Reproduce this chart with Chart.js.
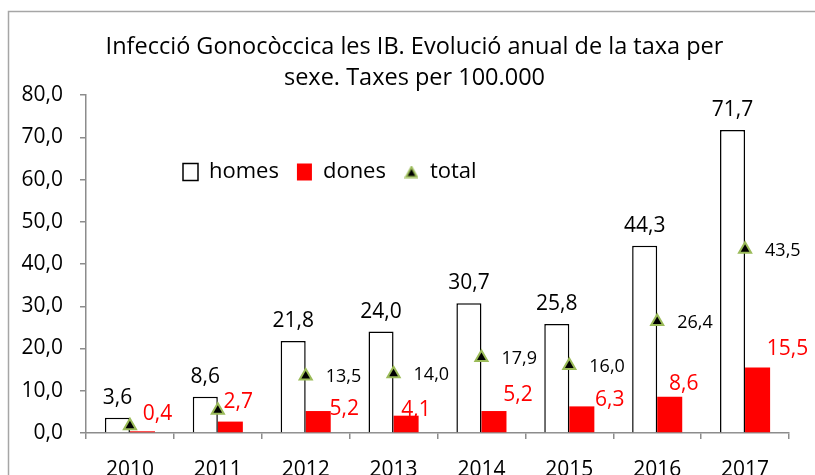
<!DOCTYPE html>
<html>
<head>
<meta charset="utf-8">
<script src="https://cdn.jsdelivr.net/npm/chart.js@4/dist/chart.umd.min.js"></script>
<style>
  html, body { margin: 0; padding: 0; background: #fff; overflow: hidden; width: 815px; height: 475px; }
  #wrap { position: absolute; left: 0; top: 0; width: 815px; height: 500px; }
</style>
</head>
<body>
<div id="wrap"><canvas id="c" width="815" height="500"></canvas></div>
<script>
// ---- data ----
const years = ['2010', '2011', '2012', '2013', '2014', '2015', '2016', '2017'];
const homes = [3.6, 8.6, 21.8, 24.0, 30.7, 25.8, 44.3, 71.7];
const dones = [0.4, 2.7, 5.2, 4.1, 5.2, 6.3, 8.6, 15.5];
const total = [1.7, 5.4, 13.5, 14.0, 17.9, 16.0, 26.4, 43.5];
const totalLabelShown = [false, false, true, true, true, true, true, true];
const yTicks = [0, 10, 20, 30, 40, 50, 60, 70, 80];
const seriesNames = ['homes', 'dones', 'total'];
const titleLines = ['Infecció Gonocòccica les IB. Evolució anual de la taxa per', 'sexe. Taxes per 100.000'];

// ---- label placement (style, relative to marks) ----
const donesLabelDx = [15, 8, 26, 10, 24, 28, 14, 30];
const donesLabelDy = [-19, -21, -4, -7, -18, -8, -14, -20];

const FONT = '"Open Sans", "Noto Sans", sans-serif';
Chart.defaults.font.family = FONT;
Chart.defaults.color = '#000';

const fmt = v => v.toFixed(1).replace('.', ',');
const AXIS = '#8c8c8c';
const GREEN = '#9bbb59';

// small triangle for legend
const tri = document.createElement('canvas');
tri.width = 14; tri.height = 13;
(function () {
  const c = tri.getContext('2d');
  c.beginPath();
  c.moveTo(7, 1.5); c.lineTo(12.5, 11.5); c.lineTo(1.5, 11.5); c.closePath();
  c.fillStyle = '#000'; c.fill();
  c.lineWidth = 2; c.strokeStyle = GREEN; c.lineJoin = 'miter'; c.stroke();
})();

const helpers = {
  id: 'helpers',
  beforeDraw(chart) {
    const ctx = chart.ctx;
    ctx.save();
    ctx.fillStyle = '#fff';
    ctx.fillRect(0, 0, chart.width, chart.height);
    ctx.strokeStyle = '#a6a6a6';
    ctx.lineWidth = 1.5;
    ctx.strokeRect(8.5, 11.5, chart.width + 50, chart.height + 50);
    ctx.restore();
  },
  afterLayout(chart) {
    const lg = chart.legend;
    const pad = lg.options.labels.padding;
    const lw = lg.lineWidths[0];
    lg.left = 183 - pad;
    lg.right = lg.left + pad + lw;
    lg.width = lg.right - lg.left;
    lg.top = 143;
    lg.height = 62;
    lg.bottom = lg.top + lg.height;
    const t = chart.titleBlock;
    t.left = 7; t.right = 822;
  },
  afterDatasetsDraw(chart) {
    const ctx = chart.ctx;
    ctx.save();
    ctx.textBaseline = 'alphabetic';
    // homes labels
    ctx.font = '21px ' + FONT;
    ctx.fillStyle = '#000';
    ctx.textAlign = 'center';
    chart.getDatasetMeta(0).data.forEach((el, i) => {
      ctx.fillText(fmt(homes[i]), el.x, el.y - 14);
    });
    // dones labels
    ctx.fillStyle = '#ff0000';
    chart.getDatasetMeta(1).data.forEach((el, i) => {
      ctx.fillText(fmt(dones[i]), el.x + donesLabelDx[i], el.y + donesLabelDy[i] + 7.5);
    });
    // total labels
    ctx.font = '18px ' + FONT;
    ctx.fillStyle = '#000';
    ctx.textAlign = 'left';
    chart.getDatasetMeta(2).data.forEach((el, i) => {
      if (totalLabelShown[i]) ctx.fillText(fmt(total[i]), el.x + 20, el.y + 6.4);
    });
    ctx.restore();
  }
};

new Chart(document.getElementById('c'), {
  type: 'bar',
  data: {
    labels: years,
    datasets: [
      { label: seriesNames[0], data: homes, backgroundColor: '#ffffff', borderColor: '#000000', borderWidth: 1.5,
        categoryPercentage: 0.57, barPercentage: 1.0, pointStyle: 'rect', order: 2 },
      { label: seriesNames[1], data: dones, backgroundColor: '#ff0000', borderColor: '#ff0000', borderWidth: 0,
        categoryPercentage: 0.57, barPercentage: 1.0, pointStyle: 'rect', order: 2 },
      { label: seriesNames[2], type: 'line', data: total, showLine: false, pointStyle: 'triangle',
        pointRadius: 7, pointHoverRadius: 7, pointBackgroundColor: '#000', pointBorderColor: GREEN,
        pointBorderWidth: 2, backgroundColor: '#000', borderColor: GREEN, order: 0 }
    ]
  },
  options: {
    responsive: false,
    animation: false,
    devicePixelRatio: 1,
    layout: { padding: { left: 0, right: 26, top: 0, bottom: 0 } },
    plugins: {
      tooltip: { enabled: false },
      title: {
        display: true,
        text: titleLines,
        color: '#000',
        font: { size: 23.5, weight: 'normal', lineHeight: 1.32 },
        padding: { top: 31.5, bottom: 0.5 }
      },
      legend: {
        display: true,
        position: 'top',
        maxHeight: 1,
        labels: {
          color: '#000',
          font: { size: 22 },
          usePointStyle: true,
          pointStyleWidth: 15,
          boxWidth: 15,
          boxHeight: 17,
          padding: 18,
          sort: (a, b) => a.datasetIndex - b.datasetIndex,
          generateLabels(chart) {
            const items = Chart.defaults.plugins.legend.labels.generateLabels(chart);
            items.forEach(it => {
              if (it.datasetIndex === 2) { it.pointStyle = tri; }
              else { it.pointStyle = 'rect'; }
              if (it.datasetIndex === 0) { it.lineWidth = 1.5; it.strokeStyle = '#000'; it.fillStyle = '#fff'; }
              if (it.datasetIndex === 1) { it.lineWidth = 0; it.fillStyle = '#ff0000'; }
            });
            return items;
          }
        }
      }
    },
    scales: {
      x: {
        offset: true,
        grid: { display: true, offset: true, drawOnChartArea: false, drawTicks: true, tickLength: 6, color: AXIS, lineWidth: 1.5 },
        border: { display: true, color: AXIS, width: 1.5 },
        ticks: { color: '#000', font: { size: 21 }, padding: 18, maxRotation: 0 },
        afterFit(scale) { scale.height = 67; }
      },
      y: {
        min: 0, max: 80,
        afterBuildTicks(scale) { scale.ticks = yTicks.map(v => ({ value: v })); },
        grid: { display: true, drawOnChartArea: false, drawTicks: true, tickLength: 6, color: AXIS, lineWidth: 1.5 },
        border: { display: true, color: AXIS, width: 1.5 },
        ticks: { color: '#000', font: { size: 21 }, padding: 17, callback: v => fmt(v) },
        afterFit(scale) { scale.width = 86; }
      }
    }
  },
  plugins: [helpers]
});
</script>
</body>
</html>
